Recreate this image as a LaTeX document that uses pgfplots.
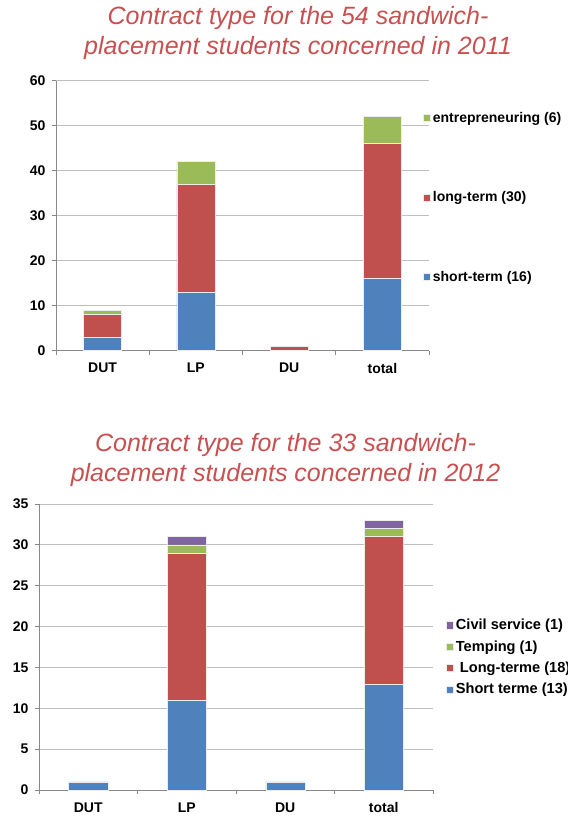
\documentclass[border=0pt]{standalone}
\usepackage{pgfplots}
\pgfplotsset{compat=1.18}
\usepackage{fontspec}
\setmainfont{Liberation Sans}

\definecolor{cblue}{HTML}{4F81BD}
\definecolor{cred}{HTML}{C0504D}
\definecolor{cgreen}{HTML}{9BBB59}
\definecolor{cpurple}{HTML}{8064A2}
\definecolor{ctitle}{RGB}{200,80,80}
\definecolor{cgrid}{HTML}{BFBFBF}
\definecolor{caxis}{HTML}{888888}

% 2011: DUT, LP, DU, total
\pgfplotstableread{
x short long entre
0 3  5  1
1 13 24 5
2 0  1  0
3 16 30 6
}\dataA
% 2012: DUT, LP, DU, total
\pgfplotstableread{
x short long temp civil
0 1  0  0 0
1 11 18 1 1
2 1  0  0 0
3 13 18 1 1
}\dataB

\pgfplotsset{
  contractaxis/.style={
    scale only axis,
    anchor=south west,
    ybar stacked,
    xmin=-0.5, xmax=3.5,
    ymin=0,
    axis x line*=bottom,
    axis y line*=left,
    axis line style={caxis, line width=0.8pt, -},
    xtick={0,1,2,3},
    xticklabels={DUT,LP,DU,total},
    major x tick style={draw=none},
    minor xtick={-0.5,0.5,1.5,2.5,3.5},
    minor x tick style={caxis, line width=0.8pt},
    minor tick length=4pt,
    ytick style={caxis, line width=0.8pt},
    major tick length=4pt,
    tick align=outside,
    ymajorgrids,
    grid style={cgrid, line width=0.8pt},
    tick label style={font=\fontsize{14}{16}\selectfont\bfseries},
    xticklabel style={yshift=-5pt},
    yticklabel style={xshift=-3pt},
    /pgf/number format/assume math mode=true,
    legend cell align=left,
    legend style={draw=none, fill=none,
      font=\fontsize{14.6}{16}\selectfont\bfseries, anchor=west},
    legend image code/.code={\fill[##1] (0pt,-3.6pt) rectangle (7.2pt,3.6pt);},
    reverse legend,
  },
  barstyle/.style={fill=#1, draw=white!85!gray, line width=0.5pt},
}

\begin{document}
\begin{tikzpicture}[x=1pt,y=1pt]
% title 2011
\node[align=center, text=ctitle, font=\fontsize{25}{29.5}\selectfont\itshape]
  at (298,785) {Contract type for the 54 sandwich-\\placement students concerned in 2011};

\begin{axis}[contractaxis,
  at={(56pt,467.3pt)}, width=373pt, height=270pt,
  ymax=60, ytick={0,10,...,60},
  bar width=38pt,
  legend style={at={(367pt,241pt)}, anchor=north west,
    font=\fontsize{14}{16}\selectfont\bfseries,
    row sep=64pt, inner xsep=0pt, inner ysep=0pt,
    /tikz/every even column/.append style={column sep=7pt}},
]
\addplot[barstyle=cblue] table[x=x,y=short] {\dataA};
\addlegendentry{short-term (16)}
\addplot[barstyle=cred] table[x=x,y=long] {\dataA};
\addlegendentry{long-term (30)}
\addplot[barstyle=cgreen] table[x=x,y=entre] {\dataA};
\addlegendentry{entrepreneuring (6)}
\end{axis}

% title 2012
\node[align=center, text=ctitle, font=\fontsize{25}{29.5}\selectfont\itshape]
  at (285.5,358) {Contract type for the 33 sandwich-\\placement students concerned in 2012};

\begin{axis}[contractaxis,
  at={(39pt,28pt)}, width=394pt, height=286pt,
  ymax=35, ytick={0,5,...,35},
  bar width=39pt,
  legend style={at={(407pt,173pt)}, anchor=north west,
    row sep=5.3pt, inner xsep=0pt, inner ysep=0pt,
    /tikz/every even column/.append style={column sep=3pt}},
]
\addplot[barstyle=cblue] table[x=x,y=short] {\dataB};
\addlegendentry{Short terme (13)}
\addplot[barstyle=cred] table[x=x,y=long] {\dataB};
\addlegendentry{\ Long-terme (18)}
\addplot[barstyle=cgreen] table[x=x,y=temp] {\dataB};
\addlegendentry{Temping (1)}
\addplot[barstyle=cpurple] table[x=x,y=civil] {\dataB};
\addlegendentry{Civil service (1)}
\end{axis}

\pgfresetboundingbox
\path (0,0) rectangle (567,818);
\end{tikzpicture}
\end{document}
